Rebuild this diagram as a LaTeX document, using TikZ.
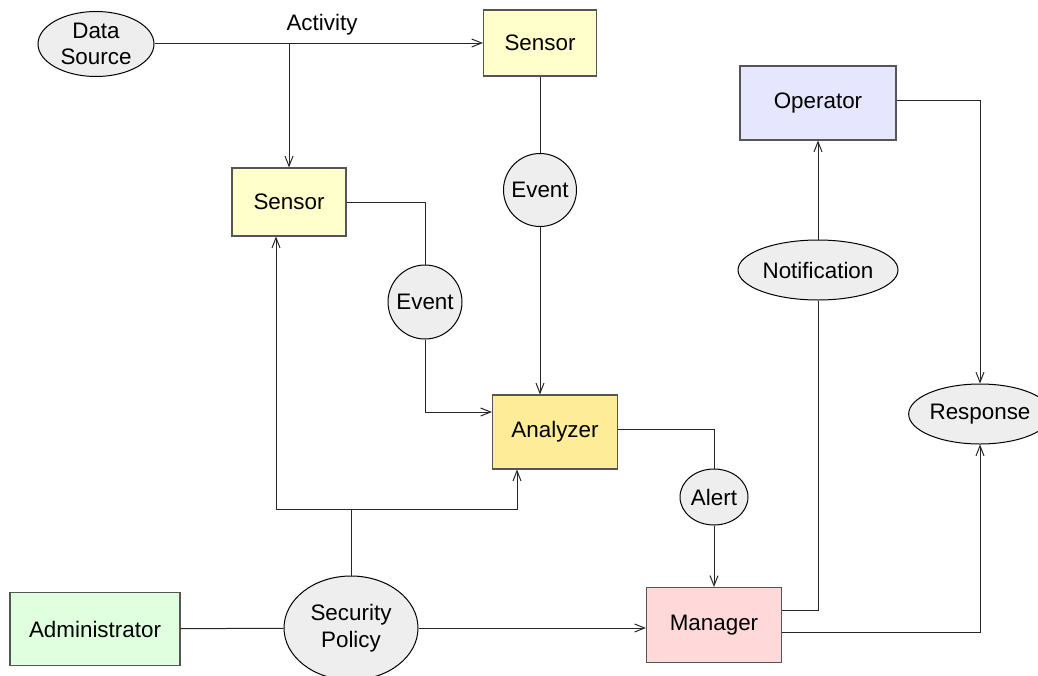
\documentclass[tikz,border=0pt]{standalone}
\usepackage{fontspec}
\setmainfont{Liberation Sans}
\usetikzlibrary{shapes.geometric,arrows.meta,calc}

\definecolor{sensorfill}{HTML}{FFFFCC}
\definecolor{analyzerfill}{HTML}{FFEC99}
\definecolor{operatorfill}{HTML}{E6E6FF}
\definecolor{adminfill}{HTML}{E0FFDE}
\definecolor{managerfill}{HTML}{FFD9D9}
\definecolor{datafill}{HTML}{EEEEEE}
\definecolor{edgegray}{HTML}{555555}

\tikzset{
  box/.style={draw=edgegray, line width=0.55pt, rectangle, inner sep=0pt,
              font=\fontsize{11.2}{13.2}\selectfont},
  blob/.style={draw=black, line width=0.5pt, fill=datafill, ellipse, inner sep=0pt,
               font=\fontsize{11.2}{13.2}\selectfont, align=center},
  dot/.style={draw=black, line width=0.5pt, fill=datafill, circle, inner sep=0pt,
              font=\fontsize{11.2}{13.2}\selectfont},
  link/.style={draw=black!85, line width=0.5pt},
  arr/.style={link, -{Straight Barb[length=5pt,width=4pt]}},
}

\begin{document}
\begin{tikzpicture}[x=0.5pt, y=-0.5pt]
  \useasboundingbox (0,0) rectangle (1038,675);

  % components
  \node[box, fill=sensorfill, minimum width=56.5pt, minimum height=33pt] (s1) at (540,43) {Sensor};
  \node[box, fill=sensorfill, minimum width=57pt, minimum height=34pt] (s2) at (289,202) {Sensor};
  \node[box, fill=analyzerfill, minimum width=62.5pt, minimum height=37pt] (an) at (555,432) {Analyzer};
  \node[box, fill=operatorfill, minimum width=78pt, minimum height=37pt] (op) at (818,103) {Operator};
  \node[box, fill=adminfill, minimum width=85pt, minimum height=36.5pt] (ad) at (95,629) {Administrator};
  \node[box, fill=managerfill, minimum width=67.5pt, minimum height=37.5pt] (mg) at (714,625) {Manager};

  % data items
  \node[blob, minimum width=58pt, minimum height=32.5pt] (ds) at (96,44) {Data\\Source};
  \node[dot, minimum size=36.5pt] (ev1) at (540,190) {Event};
  \node[dot, minimum size=37pt] (ev2) at (425,302) {Event};
  \node[blob, minimum width=34pt, minimum height=28pt] (al) at (714,497) {Alert};
  \node[blob, minimum width=80pt, minimum height=30pt] (nt) at (818,270) {Notification};
  \node[blob, minimum width=59pt, minimum height=30pt] (rs) at (980,414) {Response};
  \node[blob, minimum width=67pt, minimum height=52pt] (sp) at (351,628) {Security\\Policy};

  \node[font=\fontsize{11.2}{13.2}\selectfont] (act) at (322,25) {Activity};

  % junction points
  \coordinate (br) at (289,43);
  \coordinate (j) at (351,509);
  \coordinate (jl) at (276,509);
  \coordinate (jr) at (517,509);

  % activity flow
  \draw[arr] (ds.east |- br) -- (br -| s1.west);
  \draw[arr] (br) -- (s2);

  % events to analyzer
  \draw[link] (s1) -- (ev1);
  \draw[arr] (ev1) -- (ev1 |- an.north);
  \draw[link] (s2.east) -| (ev2.north);
  \draw[arr] (ev2.south) |- ([yshift=10pt]an.west);

  % alerts and notifications
  \draw[link] ([yshift=1.5pt]an.east) -| (al.north);
  \draw[arr] (al) -- (mg);
  \draw[link] ([yshift=7.5pt]mg.east) -| (nt.south);
  \draw[arr] (nt) -- (op);
  \draw[arr] ([yshift=1.5pt]op.east) -| (rs.north);
  \draw[arr] ([yshift=-3.5pt]mg.east) -| (rs.south);

  % security policy
  \draw[link] (ad) -- (sp);
  \draw[arr] (sp.east) -- (sp.east -| mg.west);
  \draw[link] (sp) -- (j);
  \draw[arr] (j) -- (jl) -- (jl |- s2.south);
  \draw[arr] (j) -- (jr) -- (jr |- an.south);
\end{tikzpicture}
\end{document}
